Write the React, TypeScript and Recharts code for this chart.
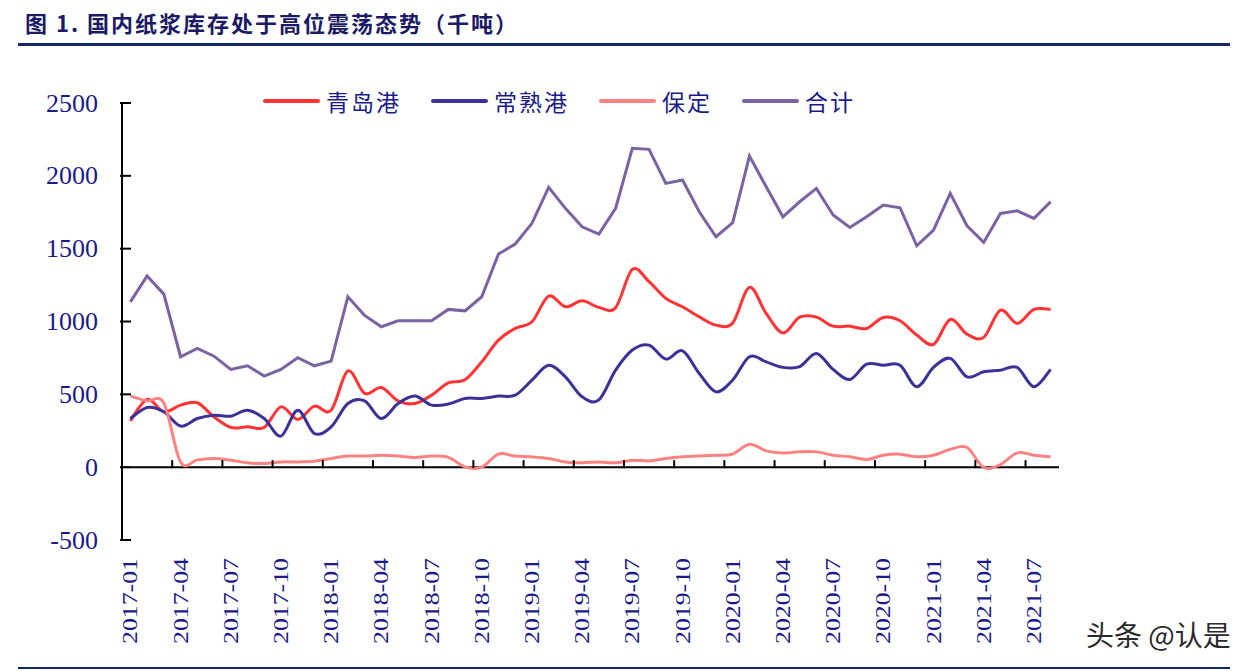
import React from "react";
import { LineChart, Line, XAxis, YAxis, ReferenceLine } from "recharts";

// 2017-01 … 2021-08, monthly
const MONTHS: string[] = [];
for (let y = 2017; y <= 2021; y++) {
  for (let m = 1; m <= 12; m++) {
    if (y === 2021 && m > 8) break;
    MONTHS.push(`${y}-${String(m).padStart(2, "0")}`);
  }
}

const X_TICKS = [0, 3, 6, 9, 12, 15, 18, 21, 24, 27, 30, 33, 36, 39, 42, 45, 48, 51, 54];
const Y_TICKS = [-500, 0, 500, 1000, 1500, 2000, 2500];

const QINGDAO = [
  318, 465, 380, 426, 442, 345, 273, 277, 273, 414, 328, 419,
  391, 661, 506, 547, 455, 437, 494, 579, 600, 723, 872, 953,
  998, 1174, 1101, 1142, 1097, 1095, 1358, 1273, 1159, 1101, 1032, 975,
  990, 1234, 1055, 922, 1030, 1030, 968, 968, 952, 1028, 1005, 907,
  843, 1014, 913, 891, 1078, 987, 1083, 1083,
];
const CHANGSHU = [
  334, 410, 380, 282, 334, 357, 350, 391, 334, 213, 391, 231,
  277, 437, 455, 334, 437, 488, 426, 433, 472, 472, 488, 494,
  598, 700, 620, 483, 462, 666, 804, 838, 742, 799, 643, 517,
  598, 758, 723, 685, 690, 781, 671, 602, 707, 700, 700, 552,
  685, 747, 620, 655, 666, 685, 552, 671,
];
const BAODING = [
  488, 455, 440, 35, 50, 60, 48, 30, 25, 36, 36, 41,
  60, 76, 76, 82, 76, 67, 76, 67, 2, 0, 90, 76,
  71, 60, 36, 30, 36, 30, 48, 43, 60, 71, 76, 82,
  90, 158, 112, 98, 105, 105, 82, 71, 53, 82, 89, 71,
  82, 122, 135, -2, 18, 98, 82, 71,
];
const TOTAL = [
  1135, 1312, 1188, 758, 815, 762, 671, 696, 625, 671, 751, 696,
  728, 1170, 1042, 964, 1005, 1005, 1005, 1083, 1073, 1170, 1463, 1532,
  1674, 1921, 1777, 1650, 1600, 1777, 2189, 2182, 1948, 1971, 1753, 1582,
  1678, 2136, 1925, 1719, 1822, 1914, 1731, 1646, 1719, 1799, 1781, 1520,
  1628, 1880, 1657, 1543, 1742, 1760, 1708, 1822,
];

const SERIES = [
  { key: "青岛港", values: QINGDAO, color: "#ff3333", smooth: true },
  { key: "常熟港", values: CHANGSHU, color: "#3b3196", smooth: true },
  { key: "保定", values: BAODING, color: "#ff8282", smooth: true },
  { key: "合计", values: TOTAL, color: "#7a62a3", smooth: false },
];

const data = MONTHS.map((month, idx) => {
  const row: Record<string, number | string> = { idx, month };
  SERIES.forEach((s) => (row[s.key] = s.values[idx]));
  return row;
});

const W = 1244;
const H = 671;
const PLOT_LEFT = 122;
const PLOT_RIGHT = 1059;
const PLOT_TOP = 103;
const PLOT_BOTTOM = 540;
const Y_MIN = -500;
const Y_MAX = 2500;
const CAT_W = (PLOT_RIGHT - PLOT_LEFT) / MONTHS.length;
const ZERO_OFFSET = ((PLOT_BOTTOM - PLOT_TOP) * (0 - Y_MIN)) / (Y_MAX - Y_MIN);

const AXIS_TEXT = "#1a1a8c";
const NAVY = "#12296b";
const SERIF = "'Liberation Serif', 'Times New Roman', serif";
const CJK = "'Noto Sans CJK SC', sans-serif";

// Office-style smoothed line: cubic Bezier through every point,
// control handles at 1/6 of the neighbour spread
function officeSmooth(context: any) {
  let pts: [number, number][] = [];
  return {
    areaStart() {},
    areaEnd() {},
    lineStart() {
      pts = [];
    },
    point(x: number, y: number) {
      pts.push([+x, +y]);
    },
    lineEnd() {
      const n = pts.length;
      if (!n) return;
      context.moveTo(pts[0][0], pts[0][1]);
      for (let i = 0; i < n - 1; i++) {
        const p0 = pts[Math.max(i - 1, 0)];
        const p1 = pts[i];
        const p2 = pts[i + 1];
        const p3 = pts[Math.min(i + 2, n - 1)];
        context.bezierCurveTo(
          p1[0] + (p2[0] - p0[0]) / 6,
          p1[1] + (p2[1] - p0[1]) / 6,
          p2[0] - (p3[0] - p1[0]) / 6,
          p2[1] - (p3[1] - p1[1]) / 6,
          p2[0],
          p2[1]
        );
      }
    },
  };
}

const YTick = ({ x, y, payload }: any) => (
  <g>
    <line x1={x - 2} x2={x + 9} y1={y} y2={y} stroke="#000" strokeWidth={2} />
    <text
      x={x - 24}
      y={y}
      textAnchor="end"
      dominantBaseline="central"
      fontFamily={SERIF}
      fontSize={26}
      fill={AXIS_TEXT}
    >
      {payload.value}
    </text>
  </g>
);

// label sits under the month; the tick mark sits on the month boundary of the zero line
const XTick = ({ x, y, payload }: any) => {
  const bx = x - CAT_W / 2;
  const zy = y - ZERO_OFFSET;
  return (
    <g>
      {payload.value > 0 && (
        <line x1={bx} x2={bx} y1={zy + 1} y2={zy - 7} stroke="#000" strokeWidth={2} />
      )}
      <text
        transform={`translate(${x},${y + 18}) rotate(-90)`}
        textAnchor="end"
        dominantBaseline="central"
        fontFamily={SERIF}
        fontSize={21}
        fill={AXIS_TEXT}
        textLength={86}
        lengthAdjust="spacingAndGlyphs"
      >
        {MONTHS[payload.value]}
      </text>
    </g>
  );
};

export default function App() {
  return (
    <div
      style={{
        position: "absolute",
        left: 0,
        top: 0,
        width: W,
        height: H,
        background: "#fff",
        overflow: "hidden",
      }}
    >
      <div
        style={{
          position: "absolute",
          left: 25,
          top: 8,
          fontFamily: CJK,
          fontWeight: 700,
          fontSize: 22,
          letterSpacing: 2,
          color: "#1a1a66",
          whiteSpace: "nowrap",
          lineHeight: "28px",
        }}
      >
        图 1. 国内纸浆库存处于高位震荡态势（千吨）
      </div>
      <div style={{ position: "absolute", left: 18, top: 43, width: 1212, height: 3, background: NAVY }} />
      <div style={{ position: "absolute", left: 18, top: 667, width: 1212, height: 2, background: NAVY }} />

      <LineChart
        width={W}
        height={H}
        data={data}
        margin={{ top: PLOT_TOP, right: W - PLOT_RIGHT, bottom: H - PLOT_BOTTOM - 100, left: 0 }}
        style={{ position: "absolute", left: 0, top: 0 }}
      >
        <XAxis
          type="number"
          dataKey="idx"
          domain={[-0.5, MONTHS.length - 0.5]}
          ticks={X_TICKS}
          interval={0}
          height={100}
          axisLine={false}
          tickLine={false}
          tickSize={0}
          tickMargin={0}
          tick={<XTick />}
        />
        <YAxis
          type="number"
          domain={[Y_MIN, Y_MAX]}
          ticks={Y_TICKS}
          interval={0}
          width={PLOT_LEFT}
          axisLine={{ stroke: "#000", strokeWidth: 2 }}
          tickLine={false}
          tickSize={0}
          tickMargin={0}
          tick={<YTick />}
        />
        <ReferenceLine y={0} stroke="#000" strokeWidth={2} />
        {SERIES.map((s) => (
          <Line
            key={s.key}
            dataKey={s.key}
            type={s.smooth ? (officeSmooth as any) : "linear"}
            stroke={s.color}
            strokeWidth={3}
            dot={false}
            activeDot={false}
            isAnimationActive={false}
          />
        ))}
      </LineChart>

      <div
        style={{
          position: "absolute",
          left: 263,
          top: 86,
          display: "flex",
          alignItems: "center",
          gap: 30,
          fontFamily: CJK,
          fontSize: 23,
          letterSpacing: 2,
          color: AXIS_TEXT,
          lineHeight: "30px",
          whiteSpace: "nowrap",
        }}
      >
        {SERIES.map((s) => (
          <div key={s.key} style={{ display: "flex", alignItems: "center" }}>
            <div style={{ width: 57, height: 4, borderRadius: 2, background: s.color, marginRight: 6 }} />
            <span>{s.key}</span>
          </div>
        ))}
      </div>

      <div
        style={{
          position: "absolute",
          left: 1086,
          top: 614,
          fontFamily: CJK,
          fontSize: 28,
          color: "#2a2a2a",
          whiteSpace: "nowrap",
          textShadow: "0 0 2px #fff",
        }}
      >
        头条 @认是
      </div>
    </div>
  );
}
